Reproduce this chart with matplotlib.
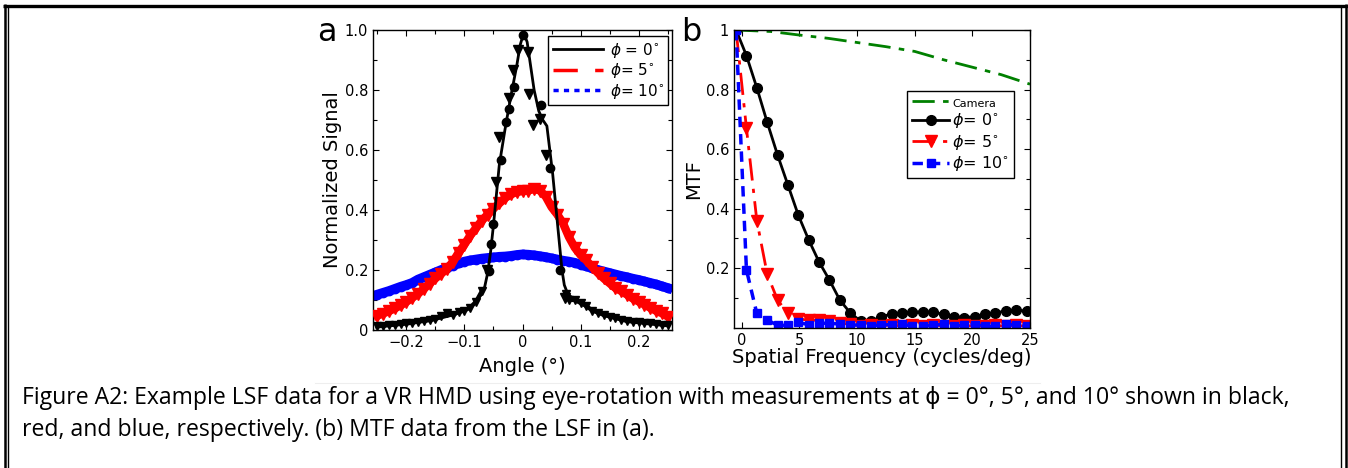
import numpy as np
import matplotlib
matplotlib.use("Agg")
import matplotlib.pyplot as plt
from matplotlib.lines import Line2D

# ---- panel a: LSF data ----
angle = np.round(np.linspace(-0.25, 0.25, 51), 3)

lsf_red = [0.048, 0.055, 0.063, 0.072, 0.082, 0.094, 0.107, 0.121, 0.137, 0.155,
           0.172, 0.188, 0.204, 0.227, 0.258, 0.285, 0.315, 0.34, 0.365, 0.385,
           0.405, 0.422, 0.44, 0.452, 0.46, 0.463, 0.465, 0.47, 0.465, 0.445,
           0.41, 0.385, 0.355, 0.31, 0.275, 0.25, 0.232, 0.21, 0.19, 0.172,
           0.156, 0.14, 0.13, 0.118, 0.105, 0.095, 0.085, 0.074, 0.064, 0.056, 0.045]

lsf_blue = [0.118, 0.124, 0.13, 0.137, 0.144, 0.15, 0.157, 0.168, 0.176, 0.184,
            0.192, 0.2, 0.207, 0.215, 0.222, 0.228, 0.232, 0.235, 0.238, 0.24,
            0.242, 0.244, 0.245, 0.247, 0.25, 0.252, 0.251, 0.249, 0.246, 0.243,
            0.239, 0.235, 0.231, 0.228, 0.224, 0.218, 0.212, 0.206, 0.2, 0.195,
            0.19, 0.185, 0.18, 0.176, 0.171, 0.167, 0.162, 0.157, 0.152, 0.146, 0.14]

fit_x = [-0.25, -0.2, -0.15, -0.12, -0.1, -0.09, -0.08, -0.07, -0.065, -0.06,
         -0.055, -0.05, -0.045, -0.04, -0.03, -0.02, -0.01, -0.004, 0.002, 0.008,
         0.014, 0.02, 0.028, 0.035, 0.042, 0.047, 0.052, 0.057, 0.061, 0.065,
         0.068, 0.072, 0.078, 0.09, 0.1, 0.113, 0.13, 0.15, 0.2, 0.25]
fit_y = [0.012, 0.02, 0.035, 0.05, 0.065, 0.075, 0.095, 0.12, 0.145, 0.19,
         0.26, 0.35, 0.45, 0.55, 0.67, 0.78, 0.88, 0.95, 0.99, 0.96,
         0.88, 0.8, 0.73, 0.7, 0.68, 0.6, 0.52, 0.42, 0.34, 0.26,
         0.2, 0.15, 0.12, 0.1, 0.09, 0.075, 0.06, 0.045, 0.028, 0.02]

tail_left_x = [-0.25, -0.24, -0.23, -0.22, -0.21, -0.2, -0.19, -0.18, -0.17, -0.16,
               -0.15, -0.14, -0.13, -0.12, -0.11, -0.1, -0.09, -0.08, -0.07]
tail_left_y = [0.012, 0.014, 0.016, 0.018, 0.02, 0.022, 0.024, 0.028, 0.03, 0.033,
               0.037, 0.046, 0.056, 0.05, 0.06, 0.065, 0.075, 0.095, 0.13]
tail_right_x = [0.075, 0.08, 0.09, 0.1, 0.11, 0.12, 0.13, 0.14, 0.15, 0.16, 0.17,
                0.18, 0.19, 0.2, 0.21, 0.22, 0.23, 0.24, 0.25]
tail_right_y = [0.12, 0.1, 0.1, 0.09, 0.08, 0.065, 0.058, 0.05, 0.045, 0.04, 0.035,
                0.03, 0.028, 0.026, 0.024, 0.022, 0.02, 0.018, 0.016]

tri_x = [-0.062, -0.046, -0.04, -0.023, -0.017, -0.008, 0.009, 0.012, 0.018, 0.03, 0.041, 0.073]
tri_y = [0.2, 0.495, 0.644, 0.772, 0.866, 0.932, 0.927, 0.788, 0.683, 0.705, 0.583, 0.106]
dot_x = [0.001, -0.014, -0.023, -0.028, -0.037, -0.051, -0.054, -0.058, 0.032, 0.047, 0.065]
dot_y = [0.982, 0.81, 0.738, 0.694, 0.567, 0.355, 0.288, 0.198, 0.75, 0.539, 0.2]

# ---- panel b: MTF data ----
freq = [-0.5, 0.4, 1.3, 2.2, 3.1, 4.0, 4.9, 5.8, 6.7, 7.6, 8.5, 9.4, 10.3, 11.2, 12.1,
        13.0, 13.9, 14.8, 15.7, 16.6, 17.5, 18.4, 19.3, 20.2, 21.1, 22.0, 22.9, 23.8, 24.7]
mtf_0 = [1.0, 0.914, 0.806, 0.69, 0.58, 0.479, 0.378, 0.295, 0.221, 0.16, 0.093, 0.05,
         0.022, 0.022, 0.037, 0.046, 0.05, 0.052, 0.054, 0.052, 0.045, 0.037, 0.034,
         0.037, 0.045, 0.05, 0.056, 0.059, 0.056]
mtf_5 = [1.0, 0.67, 0.36, 0.18, 0.093, 0.048, 0.03, 0.025, 0.025, 0.022, 0.015, 0.012,
         0.005, 0.01, 0.005, 0.01, 0.005, 0.008, 0.005, 0.01, 0.005, 0.005, 0.008,
         0.005, 0.005, 0.008, 0.005, 0.008, 0.005]
mtf_10 = [1.0, 0.194, 0.048, 0.026, 0.008, 0.008, 0.018, 0.01, 0.015, 0.015, 0.012, 0.008,
          0.01, 0.005, 0.01, 0.01, 0.012, 0.005, 0.005, 0.008, 0.012, 0.005, 0.008,
          0.01, 0.005, 0.005, 0.012, 0.008, 0.005]
cam_x = [-0.5, 2.5, 5, 7.5, 10, 12.5, 15, 17.5, 20, 22.5, 25]
cam_y = [1.0, 0.995, 0.983, 0.972, 0.958, 0.944, 0.928, 0.9, 0.875, 0.85, 0.818]

caption_lines = ["Figure A2: Example LSF data for a VR HMD using eye-rotation with measurements at "
                 "\u03d5 = 0\u00b0, 5\u00b0, and 10\u00b0 shown in black,",
                 "red, and blue, respectively. (b) MTF data from the LSF in (a)."]

plt.rcParams['font.family'] = ['DejaVu Sans']

W, H = 1348, 468
fig = plt.figure(figsize=(W / 100, H / 100), dpi=100)


def style_axes(ax):
    ax.tick_params(which='both', direction='in', top=True, right=True,
                   labelsize=10.5, width=0.8)
    ax.tick_params(which='major', length=4)
    ax.tick_params(which='minor', length=3)
    for s in ax.spines.values():
        s.set_linewidth(1.0)


# panel a
ax1 = fig.add_axes([373 / W, 1 - 330 / H, 299 / W, 300 / H])
ax1.plot(angle, lsf_blue, color='blue', lw=7, zorder=2)
ax1.plot(angle, lsf_blue, 'o', color='blue', ms=6, zorder=2)
ax1.plot(angle, lsf_red, color='red', lw=6, zorder=3)
ax1.plot(angle, lsf_red, 'v', color='red', ms=9, zorder=3)
for tx, ty in [(tail_left_x, tail_left_y), (tail_right_x, tail_right_y)]:
    ax1.plot(tx, ty, color='black', lw=3, zorder=4)
    ax1.plot(tx, ty, 'v', color='black', ms=6, zorder=4)
ax1.plot(tri_x, tri_y, 'v', color='black', ms=7, zorder=4)
ax1.plot(dot_x, dot_y, 'o', color='black', ms=6, zorder=4)
ax1.plot(fit_x, fit_y, color='black', lw=2, zorder=5)
ax1.set_xlim(-0.2575, 0.2575)
ax1.set_ylim(0, 1.0)
ax1.set_xticks([-0.2, -0.1, 0, 0.1, 0.2])
ax1.set_xticklabels(['\u22120.2', '\u22120.1', '0', '0.1', '0.2'])
ax1.set_xticks(np.arange(-0.25, 0.26, 0.05), minor=True)
ax1.set_yticks([0, 0.2, 0.4, 0.6, 0.8, 1.0])
ax1.set_yticklabels(['0', '0.2', '0.4', '0.6', '0.8', '1.0'])
ax1.set_yticks(np.arange(0, 1.01, 0.1), minor=True)
style_axes(ax1)
ax1.set_xlabel('Angle (\u00b0)', fontsize=14, labelpad=5)
ax1.set_ylabel('Normalized Signal', fontsize=14, labelpad=2)

h_a = [Line2D([], [], color='black', lw=2),
       Line2D([], [], color='red', lw=2.5, dashes=(7, 5)),
       Line2D([], [], color='blue', lw=2.5, dashes=(1.5, 1.5))]
leg = ax1.legend(h_a, [r'$\phi$ = 0$^{\circ}$', r'$\phi$= 5$^{\circ}$', r'$\phi$= 10$^{\circ}$'],
                 loc='upper right', bbox_to_anchor=(0.988, 0.98), borderaxespad=0,
                 fontsize=11, fancybox=False, edgecolor='black', framealpha=1,
                 handlelength=3.3, handletextpad=0.4, labelspacing=0.1, borderpad=0.3)
leg.get_frame().set_linewidth(1.0)

# panel b
ax2 = fig.add_axes([734 / W, 1 - 327.7 / H, 296 / W, 297.7 / H])
ax2.plot(cam_x, cam_y, color='green', lw=2, dashes=(8, 3, 2, 3), label='Camera')
ax2.plot(freq, mtf_0, '-o', color='black', lw=2, ms=7, label=r'$\phi$= 0$^{\circ}$')
ax2.plot(freq, mtf_5, 'v', color='red', lw=2, ms=8, ls=(0, (8, 3, 1.5, 3)),
         label=r'$\phi$= 5$^{\circ}$')
ax2.plot(freq, mtf_10, 's', color='blue', lw=2.5, ms=6, ls=(0, (3, 2)),
         label=r'$\phi$= 10$^{\circ}$')
ax2.set_xlim(-0.68, 25)
ax2.set_ylim(0, 1)
ax2.set_xticks([0, 5, 10, 15, 20, 25])
ax2.set_yticks([0.2, 0.4, 0.6, 0.8, 1.0])
ax2.set_yticklabels(['0.2', '0.4', '0.6', '0.8', '1'])
ax2.set_yticks(np.arange(0.1, 1.01, 0.1), minor=True)
style_axes(ax2)
ax2.set_xlabel('Spatial Frequency (cycles/deg)', fontsize=14, labelpad=0)
ax2.set_ylabel('MTF', fontsize=14, labelpad=2)
leg2 = ax2.legend(loc='upper right', bbox_to_anchor=(0.945, 0.795), borderaxespad=0,
                  fontsize=11.5, fancybox=False, edgecolor='black', framealpha=1,
                  handlelength=2.3, handletextpad=0.2, labelspacing=0.15, borderpad=0.3)
leg2.get_frame().set_linewidth(1.0)
leg2.get_texts()[0].set_fontsize(8)

# panel letters
fig.text(317 / W, 1 - 41 / H, 'a', fontsize=23)
fig.text(681 / W, 1 - 41 / H, 'b', fontsize=23)

# caption, one text per line
for i, line in enumerate(caption_lines):
    fig.text(22 / W, 1 - (404 + 32 * i) / H, line, fontsize=16.6, va='baseline',
             family=['Open Sans', 'DejaVu Sans'])


# frame around the figure
def px_line(x0, y0, x1, y1, lw):
    fig.add_artist(Line2D([x0 / W, x1 / W], [1 - y0 / H, 1 - y1 / H],
                          color='black', lw=lw, solid_capstyle='butt'))


px_line(3.3, 5.6, 1347.5, 5.6, 2.4)
px_line(4.5, 4, 4.5, 468, 1.8)
px_line(7.5, 7, 7.5, 468, 1.0)
px_line(1345.5, 4, 1345.5, 468, 1.8)
px_line(1341, 7, 1341, 468, 1.0)
fig.add_artist(Line2D([315 / W, 1040 / W], [1 - 383 / H, 1 - 383 / H], color='#eeeeee', lw=0.8))

fig.savefig('out.png', dpi=100)
